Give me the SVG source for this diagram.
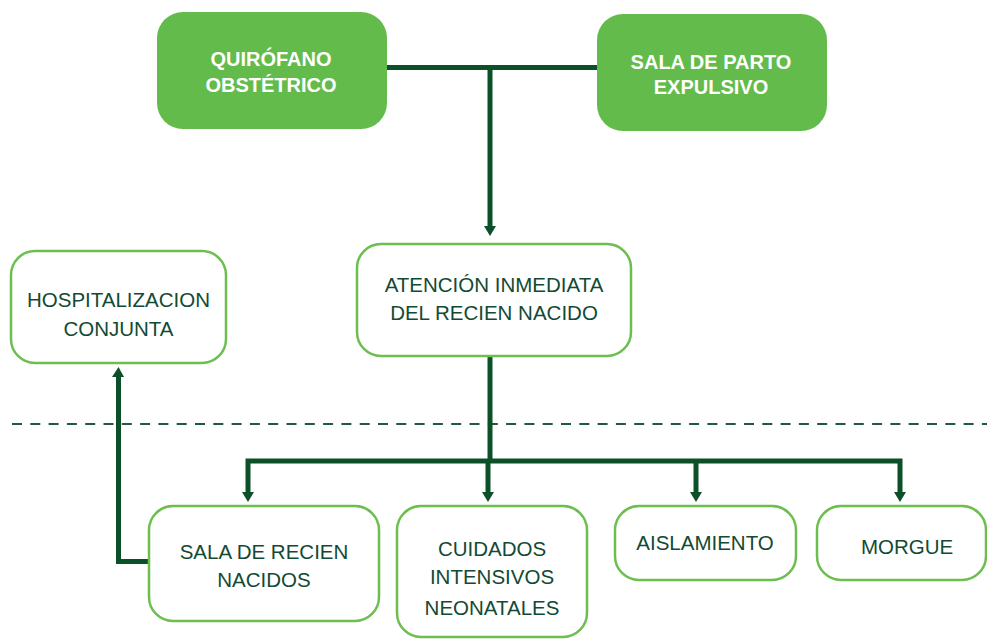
<svg xmlns="http://www.w3.org/2000/svg" width="987" height="639" viewBox="0 0 987 639">
<defs>
<style>
.filled{fill:#63bb4b;}
.outl{fill:#ffffff;stroke:#6cbf4f;stroke-width:2.5;}
.tw{font-family:"Liberation Sans",Arial,sans-serif;font-weight:bold;font-size:20px;fill:#ffffff;text-anchor:middle;}
.td{font-family:"Liberation Sans",Arial,sans-serif;font-size:20.5px;fill:#124a33;text-anchor:middle;}
.conn{fill:none;stroke:#0b5028;stroke-width:5;}
.dash{fill:none;stroke:#1f5a3a;stroke-width:2;stroke-dasharray:10 8.3;}
.head{fill:#0b5028;}
</style>
</defs>
<line class="dash" x1="12" y1="424" x2="987" y2="424"/>
<g id="connectors">
<path class="conn" d="M387,67.5 H598"/>
<path class="conn" d="M490,67.5 V227"/>
<path class="head" d="M484,226 L496,226 L490,236 Z"/>
<path class="conn" d="M490,356 V461"/>
<path class="conn" d="M248,497 V461 H900 V497"/>
<path class="head" d="M242,492 L254,492 L248,502 Z"/>
<path class="conn" d="M488,461 V497"/>
<path class="head" d="M482,492 L494,492 L488,502 Z"/>
<path class="conn" d="M696,461 V497"/>
<path class="head" d="M690,492 L702,492 L696,502 Z"/>
<path class="head" d="M894,492 L906,492 L900,502 Z"/>
<path class="conn" d="M149,561.5 H118.5 V375"/>
<path class="head" d="M112,377 L124,377 L118.5,367 Z"/>
</g>
<g id="quirofano">
<rect class="filled" x="157" y="12" width="230" height="117" rx="26"/>
<text class="tw" x="271" y="66">QUIRÓFANO</text>
<text class="tw" x="271" y="92">OBSTÉTRICO</text>
</g>
<g id="sala-parto">
<rect class="filled" x="597" y="14" width="230" height="117" rx="26"/>
<text class="tw" x="711" y="69">SALA DE PARTO</text>
<text class="tw" x="711" y="94">EXPULSIVO</text>
</g>
<g id="hospitalizacion">
<rect class="outl" x="11" y="251" width="215" height="112" rx="24"/>
<text class="td" x="118.5" y="307">HOSPITALIZACION</text>
<text class="td" x="118.5" y="336">CONJUNTA</text>
</g>
<g id="atencion">
<rect class="outl" x="357" y="244" width="274" height="112" rx="24"/>
<text class="td" x="494" y="292">ATENCIÓN INMEDIATA</text>
<text class="td" x="494" y="320">DEL RECIEN NACIDO</text>
</g>
<g id="sala-recien">
<rect class="outl" x="149" y="506" width="230" height="115" rx="24"/>
<text class="td" x="264" y="559">SALA DE RECIEN</text>
<text class="td" x="264" y="587">NACIDOS</text>
</g>
<g id="cuidados">
<rect class="outl" x="397" y="506" width="190" height="131" rx="24"/>
<text class="td" x="492" y="556">CUIDADOS</text>
<text class="td" x="492" y="584">INTENSIVOS</text>
<text class="td" x="492" y="615">NEONATALES</text>
</g>
<g id="aislamiento">
<rect class="outl" x="615" y="506" width="181" height="74" rx="24"/>
<text class="td" x="705" y="550">AISLAMIENTO</text>
</g>
<g id="morgue">
<rect class="outl" x="817" y="506" width="169" height="74" rx="24"/>
<text class="td" x="907" y="554">MORGUE</text>
</g>
</svg>
